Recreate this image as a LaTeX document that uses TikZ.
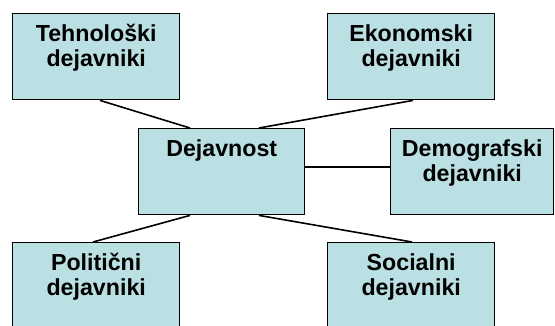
\documentclass[tikz,border=0pt]{standalone}
\usepackage{fontspec}
\setmainfont{Liberation Sans}
\usetikzlibrary{calc}
\definecolor{boxfill}{HTML}{BBE0E3}
\begin{document}
\begin{tikzpicture}[x=1pt,y=1pt,
  box/.style={draw=black, line width=1.4pt, fill=boxfill, minimum width=167pt, minimum height=86pt, inner sep=0pt, anchor=north west},
  lbl/.style={font=\bfseries\fontsize{23.2}{25}\selectfont, align=center, inner sep=0pt, anchor=north},
  conn/.style={line width=1.6pt, draw=black}]
\useasboundingbox (0,0) rectangle (555,-325);
\clip (0,0) rectangle (555,-325);
% boxes
\node[box] (t) at (12,-13) {};
\node[box] (e) at (327,-13) {};
\node[box, minimum width=166pt] (d) at (138,-128) {};
\node[box, minimum width=163pt] (g) at (390,-128) {};
\node[box, minimum height=90pt] (p) at (12,-242) {};
\node[box, minimum height=90pt] (s) at (327,-242) {};
% labels
\node[lbl] (tl) at ([yshift=-11pt]t.north) {Tehnološki\\dejavniki};
\node[lbl] (el) at ([yshift=-11pt]e.north) {Ekonomski\\dejavniki};
\node[lbl] (dl) at ([yshift=-11pt]d.north) {Dejavnost};
\node[lbl] (gl) at ([yshift=-11pt]g.north) {Demografski\\dejavniki};
\node[lbl] (pl) at ([yshift=-11pt]p.north) {Politični\\dejavniki};
\node[lbl] (sl) at ([yshift=-11pt]s.north) {Socialni\\dejavniki};
% connectors
\draw[conn] ([xshift=88pt]t.south west) -- ([xshift=52pt]d.north west);
\draw[conn] ([xshift=86pt]e.south west) -- ([xshift=121pt]d.north west);
\draw[conn] ([yshift=-39pt]d.north east) -- ([yshift=-39pt]g.north west);
\draw[conn] ([xshift=81pt]p.north west) -- ([xshift=52pt]d.south west);
\draw[conn] ([xshift=85pt]s.north west) -- ([xshift=121pt]d.south west);
\end{tikzpicture}
\end{document}
